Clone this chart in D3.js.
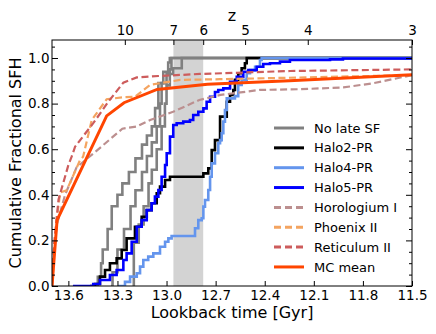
<!DOCTYPE html>
<html>
<head>
<meta charset="utf-8">
<script src="https://cdn.jsdelivr.net/npm/d3@7"></script>
<style>
  body { margin: 0; background: #fff; }
  svg { font-family: "DejaVu Sans", sans-serif; }
  .tick text { fill: #000; }
  .tick line { stroke: #000; }
</style>
</head>
<body>
<svg id="chart" width="436" height="334"></svg>
<script>
// lookback time [Gyr] vs cumulative fractional SFH
const xTicks = [13.6, 13.3, 13.0, 12.7, 12.4, 12.1, 11.8, 11.5];
const yTicks = [0, 0.2, 0.4, 0.6, 0.8, 1.0];
// redshift ticks on top axis, placed at their lookback time
const zLabels = ["10", "7", "6", "5", "4", "3"];
const zLookback = [13.255, 12.958, 12.776, 12.52, 12.137, 11.5];
const reionBand = [12.958, 12.776]; // z = 7 .. 6

const noLate1 = [[13.43,0],[13.42,0.04],[13.4,0.1],[13.39,0.16],[13.36,0.25],[13.335,0.35],[13.3,0.4],[13.27,0.45],[13.23,0.5],[13.19,0.56],[13.15,0.62],[13.12,0.66],[13.09,0.7],[13.07,0.78],[13.05,0.89],[13.02,0.94],[12.99,0.98],[12.98,1.0],[11.5,1.0]];
const noLate2 = [[13.34,0],[13.33,0.06],[13.3,0.16],[13.26,0.25],[13.22,0.35],[13.19,0.42],[13.15,0.5],[13.12,0.57],[13.09,0.63],[13.06,0.7],[13.04,0.8],[13.03,0.89],[13.0,0.93],[12.96,0.955],[12.907,0.955],[12.907,1.0],[11.5,1.0]];
const noLate3 = [[13.205,0],[13.2,0.19],[13.17,0.27],[13.14,0.35],[13.11,0.45],[13.09,0.51],[13.06,0.6],[13.03,0.7],[13.01,0.8],[13.0,0.88],[12.98,0.95],[12.97,1.0],[11.5,1.0]];

const halo2 = [[13.468,0],[13.437,0.009],[13.407,0.041],[13.376,0.07],[13.346,0.1],[13.305,0.121],[13.274,0.158],[13.244,0.209],[13.193,0.26],[13.152,0.304],[13.121,0.333],[13.091,0.363],[13.06,0.407],[13.04,0.436],[13.009,0.465],[12.979,0.479],[12.796,0.479],[12.775,0.494],[12.745,0.516],[12.724,0.596],[12.704,0.64],[12.673,0.743],[12.632,0.808],[12.612,0.838],[12.592,0.86],[12.582,0.904],[12.562,0.933],[12.541,0.955],[12.521,0.977],[12.51,1.0],[11.5,1.0]];

const halo4 = [[13.295,0],[13.254,0.018],[13.223,0.041],[13.182,0.056],[13.162,0.085],[13.142,0.114],[13.112,0.129],[13.081,0.143],[13.04,0.172],[13.009,0.194],[12.989,0.209],[12.969,0.219],[12.837,0.219],[12.826,0.253],[12.806,0.289],[12.785,0.297],[12.775,0.348],[12.765,0.377],[12.745,0.421],[12.734,0.479],[12.724,0.538],[12.704,0.582],[12.684,0.626],[12.673,0.64],[12.663,0.67],[12.653,0.721],[12.643,0.772],[12.632,0.823],[12.582,0.833],[12.562,0.882],[12.541,0.904],[12.51,0.933],[12.49,0.947],[12.459,0.962],[12.429,0.991],[12.419,1.0],[11.5,1.0]];

const halo5 = [[13.572,0],[13.48,0],[13.448,0.009],[13.407,0.026],[13.346,0.048],[13.305,0.07],[13.264,0.114],[13.244,0.143],[13.213,0.194],[13.182,0.26],[13.152,0.289],[13.121,0.333],[13.091,0.363],[13.071,0.392],[13.05,0.421],[13.03,0.479],[13.009,0.531],[12.999,0.582],[12.979,0.655],[12.959,0.706],[12.938,0.714],[12.898,0.721],[12.857,0.728],[12.837,0.75],[12.806,0.764],[12.775,0.779],[12.755,0.808],[12.734,0.83],[12.704,0.851],[12.684,0.86],[12.653,0.867],[12.612,0.896],[12.571,0.918],[12.531,0.94],[12.5,0.947],[12.449,0.962],[12.409,0.974],[12.368,0.977],[12.307,0.984],[12.246,0.991],[12.001,0.994],[11.922,0.998],[11.5,0.998]];

const horologium = [[13.7,0],[13.69,0.15],[13.67,0.27],[13.62,0.4],[13.55,0.52],[13.4,0.61],[13.27,0.69],[13.18,0.7],[13.1,0.728],[12.96,0.764],[12.8,0.816],[12.67,0.838],[12.43,0.86],[12.19,0.863],[11.92,0.871],[11.74,0.889],[11.5,0.925]];
const phoenix = [[13.7,0],[13.67,0.3],[13.65,0.41],[13.61,0.42],[13.53,0.55],[13.51,0.567],[13.457,0.728],[13.366,0.819],[13.264,0.828],[13.193,0.83],[13.101,0.882],[12.918,0.904],[12.673,0.907],[11.5,0.925]];
const reticulum = [[13.7,0],[13.685,0.2],[13.66,0.38],[13.6,0.53],[13.58,0.567],[13.559,0.611],[13.448,0.714],[13.356,0.808],[13.264,0.892],[13.182,0.915],[13.05,0.921],[12.796,0.93],[12.245,0.943],[11.5,0.95]];
const mcMean = [[13.7,0],[13.669,0.289],[13.366,0.746],[13.26,0.804],[13.058,0.862],[12.75,0.885],[12.25,0.9],[11.5,0.927]];

const series = [
  { name: "No late SF", data: [noLate1, noLate2, noLate3], color: "#808080", step: true },
  { name: "Halo2-PR", data: [halo2], color: "#000000", step: true },
  { name: "Halo4-PR", data: [halo4], color: "#6495ED", step: true },
  { name: "Halo5-PR", data: [halo5], color: "#0000FF", step: true },
  { name: "Horologium I", data: [horologium], color: "#BC8F8F", dash: true },
  { name: "Phoenix II", data: [phoenix], color: "#F4A460", dash: true },
  { name: "Reticulum II", data: [reticulum], color: "#CD5C5C", dash: true },
  { name: "MC mean", data: [mcMean], color: "#FF4500", width: 3 }
];

const margin = { left: 52, right: 24, top: 40, bottom: 48 };
const W = 436, H = 334;
const x = d3.scaleLinear().domain([13.7, 11.5]).range([margin.left, W - margin.right]);
const y = d3.scaleLinear().domain([0, 1.079]).range([H - margin.bottom, margin.top]);

const svg = d3.select("#chart");

svg.append("clipPath").attr("id", "clip")
  .append("rect")
  .attr("x", x.range()[0]).attr("y", y.range()[1])
  .attr("width", x.range()[1] - x.range()[0])
  .attr("height", y.range()[0] - y.range()[1]);

// reionization band z=7..6
svg.append("rect")
  .attr("x", x(reionBand[0]))
  .attr("y", y.range()[1])
  .attr("width", x(reionBand[1]) - x(reionBand[0]))
  .attr("height", y.range()[0] - y.range()[1])
  .attr("fill", "#d3d3d3");

const plot = svg.append("g").attr("clip-path", "url(#clip)");

series.forEach(s => {
  const line = d3.line()
    .x(d => x(d[0]))
    .y(d => y(d[1]))
    .curve(s.step ? d3.curveStepAfter : d3.curveLinear);
  s.data.forEach(arr => {
    plot.append("path")
      .attr("d", line(arr))
      .attr("fill", "none")
      .attr("stroke", s.color)
      .attr("stroke-width", s.width || (s.dash ? 2.2 : 2.6))
      .attr("stroke-dasharray", s.dash ? "7,3.5" : null)
      .attr("stroke-linejoin", "miter");
  });
});

// axes, ticks pointing inward
const fmt = d3.format(".1f");
const yMinor = d3.range(0, 1.076, 0.05).filter(v => Math.abs(v / 0.2 - Math.round(v / 0.2)) > 1e-6);

svg.append("g")
  .attr("transform", `translate(0,${y.range()[0]})`)
  .call(d3.axisBottom(x).tickValues(xTicks).tickFormat(fmt).tickSizeInner(-5).tickSizeOuter(0).tickPadding(4));
svg.append("g")
  .attr("transform", `translate(${x.range()[0]},0)`)
  .call(d3.axisLeft(y).tickValues(yTicks).tickFormat(fmt).tickSizeInner(-6).tickSizeOuter(0).tickPadding(2.5));
svg.append("g")
  .attr("transform", `translate(${x.range()[0]},0)`)
  .call(d3.axisLeft(y).tickValues(yMinor).tickFormat("").tickSizeInner(-3).tickSizeOuter(0));
svg.append("g")
  .attr("transform", `translate(${x.range()[1]},0)`)
  .call(d3.axisRight(y).tickValues(yTicks).tickFormat("").tickSizeInner(-6).tickSizeOuter(0));
svg.append("g")
  .attr("transform", `translate(${x.range()[1]},0)`)
  .call(d3.axisRight(y).tickValues(yMinor).tickFormat("").tickSizeInner(-3).tickSizeOuter(0));

const zScale = d3.scaleOrdinal().domain(zLabels).range(zLookback.map(t => x(t)));
svg.append("g")
  .attr("transform", `translate(0,${y.range()[1]})`)
  .call(d3.axisTop(zScale).tickSizeInner(-5).tickSizeOuter(0).tickPadding(5));

svg.selectAll(".domain").remove();
svg.selectAll(".tick text").attr("font-size", 13.5).attr("font-family", "DejaVu Sans");

svg.append("rect")
  .attr("x", x.range()[0]).attr("y", y.range()[1])
  .attr("width", x.range()[1] - x.range()[0])
  .attr("height", y.range()[0] - y.range()[1])
  .attr("fill", "none").attr("stroke", "#000").attr("stroke-width", 1);

// axis labels
const cx = (x.range()[0] + x.range()[1]) / 2;
svg.append("text").attr("x", cx).attr("y", 318).attr("text-anchor", "middle")
  .attr("font-size", 16).text("Lookback time [Gyr]");
svg.append("text").attr("x", cx).attr("y", 20.5).attr("text-anchor", "middle")
  .attr("font-size", 16).text("z");
svg.append("text")
  .attr("transform", `translate(20.5,${(y.range()[0] + y.range()[1]) / 2}) rotate(-90)`)
  .attr("text-anchor", "middle").attr("font-size", 16).text("Cumulative Fractional SFH");

// legend
const legend = svg.append("g").attr("transform", "translate(274,128)");
series.forEach((s, i) => {
  const row = legend.append("g").attr("transform", `translate(0,${i * 19.85})`);
  row.append("line").attr("x1", 0).attr("x2", 30).attr("y1", 0).attr("y2", 0)
    .attr("stroke", s.color).attr("stroke-width", 3)
    .attr("stroke-dasharray", s.dash ? "7,4" : null);
  row.append("text").attr("x", 40).attr("y", 4.6).attr("font-size", 13).text(s.name);
});
</script>
</body>
</html>
